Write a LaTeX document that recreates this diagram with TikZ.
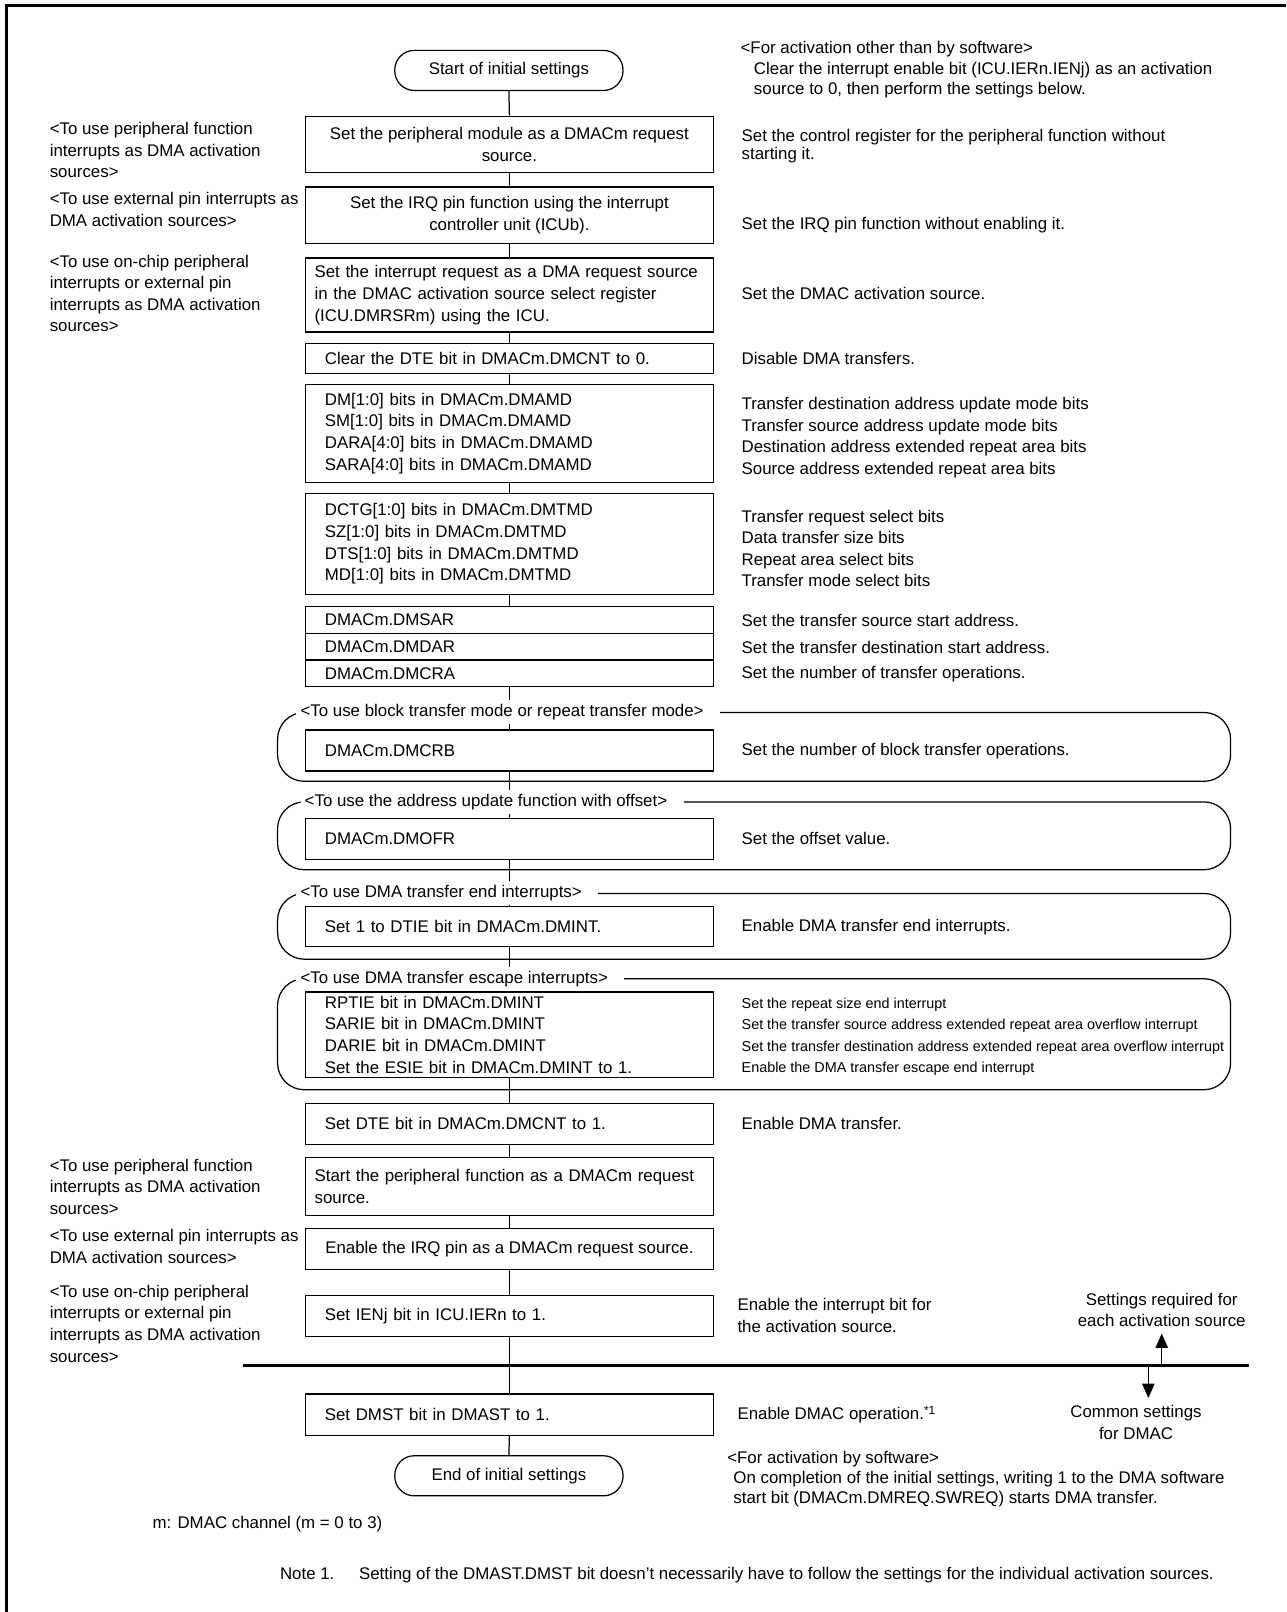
\documentclass[tikz,border=0pt]{standalone}
\usepackage{fontspec}
\setmainfont{Liberation Sans}
\usetikzlibrary{arrows.meta}

\begin{document}
\begin{tikzpicture}[
        x=0.5pt, y=-0.5pt,
        font=\fontsize{8.2}{10.5}\selectfont,
        caja/.style={rectangle, draw=black, line width=0.6pt, minimum width=198.5pt, inner ysep=1pt},
        cajaCentro/.style={caja, align=center},
        cajaIzq/.style={caja, align=left, inner xsep=9.5pt, text width=179.5pt},
        cajaIzqAncha/.style={caja, align=left, inner xsep=4.5pt, text width=189.5pt},
        terminal/.style={rectangle, draw=black, line width=0.6pt, rounded corners=9.5pt, minimum width=111pt, minimum height=19.5pt},
        notaIzq/.style={anchor=west, align=left, inner sep=0pt},
        notaDer/.style={anchor=west, align=left, inner sep=0pt},
        notaPeque/.style={notaDer, font=\fontsize{7}{10.5}\selectfont},
        grupo/.style={draw=black, line width=0.6pt, rounded corners=13pt},
        etiquetaGrupo/.style={anchor=west, fill=white, inner xsep=2pt, inner ysep=2pt},
        linea/.style={line width=0.6pt},
        flecha/.style={line width=0.7pt, -{Triangle[length=7pt, width=6pt]}},
        divisor/.style={line width=1.6pt},
        marco/.style={line width=1.5pt}
    ]
        \useasboundingbox (0,0) rectangle (1251,1568);
        % Marco
        \draw[marco] (1251,5) -| (6,1568);

        % Grupos opcionales
        \draw[grupo] (270,693) rectangle (1197,760);
        \draw[grupo] (270,780) rectangle (1197,846);
        \draw[grupo] (270,869) rectangle (1197,933);
        \draw[grupo] (270,952) rectangle (1197,1060);

        % Pasos
        \node[terminal] (inicio) at (495,68.5) {Start of initial settings};
        \node[cajaCentro, minimum height=27.5pt] (peri) at (495.5,140.5) {Set the peripheral module as a DMACm request\\source.};
        \node[cajaCentro, minimum height=27.5pt] (irq) at (495.5,209.5) {Set the IRQ pin function using the interrupt\\controller unit (ICUb).};
        \node[cajaIzqAncha, minimum height=36pt] (dmrsr) at (495.5,287) {Set the interrupt request as a DMA request source\\in the DMAC activation source select register\\(ICU.DMRSRm) using the ICU.};
        \node[cajaIzq, minimum height=14.5pt] (dteCero) at (495.5,348.5) {Clear the DTE bit in DMACm.DMCNT to 0.};
        \node[cajaIzq, minimum height=47.5pt] (dmamd) at (495.5,421.5) {DM[1:0] bits in DMACm.DMAMD\\SM[1:0] bits in DMACm.DMAMD\\DARA[4:0] bits in DMACm.DMAMD\\SARA[4:0] bits in DMACm.DMAMD};
        \node[cajaIzq, minimum height=49pt] (dmtmd) at (495.5,529) {DCTG[1:0] bits in DMACm.DMTMD\\SZ[1:0] bits in DMACm.DMTMD\\DTS[1:0] bits in DMACm.DMTMD\\MD[1:0] bits in DMACm.DMTMD};
        \node[cajaIzq, minimum height=13pt] (dmsar) at (495.5,603) {DMACm.DMSAR};
        \node[cajaIzq, minimum height=13pt] (dmdar) at (495.5,629) {DMACm.DMDAR};
        \node[cajaIzq, minimum height=13pt] (dmcra) at (495.5,655) {DMACm.DMCRA};
        \node[cajaIzq, minimum height=20pt] (dmcrb) at (495.5,730) {DMACm.DMCRB};
        \node[cajaIzq, minimum height=20pt] (dmofr) at (495.5,816) {DMACm.DMOFR};
        \node[cajaIzq, minimum height=19.5pt] (dtie) at (495.5,901.5) {Set 1 to DTIE bit in DMACm.DMINT.};
        \node[cajaIzq, minimum height=41.5pt] (escape) at (495.5,1006.5) {RPTIE bit in DMACm.DMINT\\SARIE bit in DMACm.DMINT\\DARIE bit in DMACm.DMINT\\Set the ESIE bit in DMACm.DMINT to 1.};
        \node[cajaIzq, minimum height=20pt] (dteUno) at (495.5,1093) {Set DTE bit in DMACm.DMCNT to 1.};
        \node[cajaIzqAncha, minimum height=28pt] (periInicio) at (495.5,1154) {Start the peripheral function as a DMACm request\\source.};
        \node[cajaCentro, minimum height=20pt] (irqHab) at (495.5,1215) {Enable the IRQ pin as a DMACm request source.};
        \node[cajaIzq, minimum height=20pt] (ienj) at (495.5,1280) {Set IENj bit in ICU.IERn to 1.};
        \node[cajaIzq, minimum height=20pt] (dmst) at (495.5,1376) {Set DMST bit in DMAST to 1.};
        \node[terminal] (fin) at (495,1435.5) {End of initial settings};

        % Linea principal
        \draw[linea] (inicio.south) -- (peri.north);
        \draw[linea] (peri.south) -- (irq.north);
        \draw[linea] (irq.south) -- (dmrsr.north);
        \draw[linea] (dmrsr.south) -- (dteCero.north);
        \draw[linea] (dteCero.south) -- (dmamd.north);
        \draw[linea] (dmamd.south) -- (dmtmd.north);
        \draw[linea] (dmtmd.south) -- (dmsar.north);
        \draw[linea] (dmcra.south) -- (dmcrb.north);
        \draw[linea] (dmcrb.south) -- (dmofr.north);
        \draw[linea] (dmofr.south) -- (dtie.north);
        \draw[linea] (dtie.south) -- (escape.north);
        \draw[linea] (escape.south) -- (dteUno.north);
        \draw[linea] (dteUno.south) -- (periInicio.north);
        \draw[linea] (periInicio.south) -- (irqHab.north);
        \draw[linea] (irqHab.south) -- (ienj.north);
        \draw[linea] (ienj.south) -- (dmst.north);
        \draw[linea] (dmst.south) -- (fin.north);

        % Etiquetas de grupo (tapan la linea)
        \node[etiquetaGrupo] at (288,693) {<To use block transfer mode or repeat transfer mode>\hspace*{6pt}};
        \node[etiquetaGrupo] at (292,780) {<To use the address update function with offset>\hspace*{6pt}};
        \node[etiquetaGrupo] at (288,869) {<To use DMA transfer end interrupts>\hspace*{6pt}};
        \node[etiquetaGrupo] at (288,952) {<To use DMA transfer escape interrupts>\hspace*{6pt}};

        % Notas izquierda
        \node[notaIzq] (izqPeri) at (48,146) {<To use peripheral function\\interrupts as DMA activation\\sources>};
        \node[notaIzq] (izqIrq) at (48,204) {<To use external pin interrupts as\\DMA activation sources>};
        \node[notaIzq] (izqChip) at (48,285.5) {<To use on-chip peripheral\\interrupts or external pin\\interrupts as DMA activation\\sources>};
        \node[notaIzq] (izqPeriB) at (48,1154.5) {<To use peripheral function\\interrupts as DMA activation\\sources>};
        \node[notaIzq] (izqIrqB) at (48,1212.5) {<To use external pin interrupts as\\DMA activation sources>};
        \node[notaIzq] (izqChipB) at (48,1287.5) {<To use on-chip peripheral\\interrupts or external pin\\interrupts as DMA activation\\sources>};

        % Notas derecha
        \node[notaDer, font=\fontsize{8.2}{10}\selectfont] (derSw) at (720,68) {<For activation other than by software>\\\hspace*{6.5pt}Clear the interrupt enable bit (ICU.IERn.IENj) as an activation\\\hspace*{6.5pt}source to 0, then perform the settings below.};
        \node[notaDer, font=\fontsize{8.2}{9}\selectfont] (derPeri) at (721,142) {Set the control register for the peripheral function without\\starting it.};
        \node[notaDer] (derIrq) at (721,219) {Set the IRQ pin function without enabling it.};
        \node[notaDer] (derDmrsr) at (721,285) {Set the DMAC activation source.};
        \node[notaDer] (derDte) at (721,349) {Disable DMA transfers.};
        \node[notaDer] (derDmamd) at (721,425.5) {Transfer destination address update mode bits\\Transfer source address update mode bits\\Destination address extended repeat area bits\\Source address extended repeat area bits};
        \node[notaDer] (derDmtmd) at (721,533.5) {Transfer request select bits\\Data transfer size bits\\Repeat area select bits\\Transfer mode select bits};
        \node[notaDer] (derSar) at (721,604) {Set the transfer source start address.};
        \node[notaDer] (derDar) at (721,630) {Set the transfer destination start address.};
        \node[notaDer] (derCra) at (721,656) {Set the number of transfer operations.};
        \node[notaDer] (derCrb) at (721,731) {Set the number of block transfer operations.};
        \node[notaDer] (derOfr) at (721,816) {Set the offset value.};
        \node[notaDer] (derDtie) at (721,902) {Enable DMA transfer end interrupts.};
        \node[notaPeque] (derEscape) at (721,1008.5) {Set the repeat size end interrupt\\Set the transfer source address extended repeat area overflow interrupt\\Set the transfer destination address extended repeat area overflow interrupt\\Enable the DMA transfer escape end interrupt};
        \node[notaDer] (derDteUno) at (721,1093) {Enable DMA transfer.};
        \node[notaDer] (derIenj) at (717,1279.5) {Enable the interrupt bit for\\the activation source.};
        \node[notaDer] (derDmst) at (717,1376) {Enable DMAC operation.\textsuperscript{*1}};
        \node[notaDer, font=\fontsize{8.2}{9.75}\selectfont] (derSoft) at (707,1438.5) {<For activation by software>\\\hspace*{3pt}On completion of the initial settings, writing 1 to the DMA software\\\hspace*{3pt}start bit (DMACm.DMREQ.SWREQ) starts DMA transfer.};

        % Division entre ajustes
        \coordinate (divIzq) at (236,1328);
        \coordinate (divDer) at (1215,1328);
        \draw[divisor] (divIzq) -- (divDer);
        \node[align=center, font=\fontsize{8.2}{10}\selectfont] (ajustesFuente) at (1130,1274) {Settings required for\\each activation source};
        \node[align=center, font=\fontsize{8.2}{10.5}\selectfont] (ajustesComunes) at (1105,1383.5) {Common settings\\for DMAC};
        \coordinate (pieArriba) at (1130,1328);
        \coordinate (pieAbajo) at (1117,1328);
        \draw[flecha] (pieArriba) -- (ajustesFuente.south);
        \draw[flecha] (pieAbajo) -- (pieAbajo |- ajustesComunes.north);

        % Pie
        \node[notaDer] (canal) at (148,1483) {m: DMAC channel (m = 0 to 3)};
        \node[notaDer] (nota1) at (272,1532) {Note 1.\hspace{12pt}Setting of the DMAST.DMST bit doesn't necessarily have to follow the settings for the individual activation sources.};
    \end{tikzpicture}
\end{document}
